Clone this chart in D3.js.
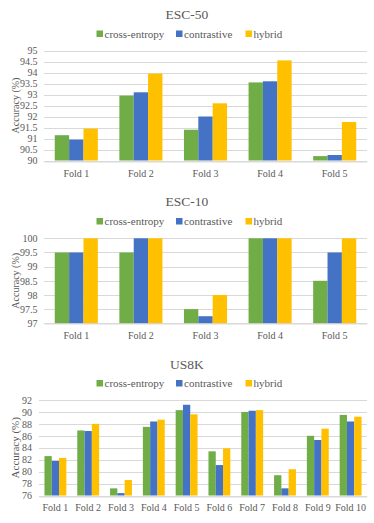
<!DOCTYPE html>
<html><head><meta charset="utf-8">
<script src="https://cdn.jsdelivr.net/npm/d3@7"></script>
<style>html,body{margin:0;padding:0;background:#fff;}svg{display:block;}</style>
</head><body>
<svg id="c" width="374" height="523"></svg>
<script>
const seriesNames = ["cross-entropy", "contrastive", "hybrid"];
const colors = ["#70AD47", "#4472C4", "#FFC000"];

const esc50Folds = ["Fold 1", "Fold 2", "Fold 3", "Fold 4", "Fold 5"];
const esc50CrossEntropy = [91.15, 92.95, 91.4, 93.55, 90.2];
const esc50Contrastive = [90.95, 93.1, 92.0, 93.6, 90.25];
const esc50Hybrid = [91.45, 93.95, 92.6, 94.55, 91.75];
const esc50Ticks = [90, 90.5, 91, 91.5, 92, 92.5, 93, 93.5, 94, 94.5, 95];

const esc10Folds = ["Fold 1", "Fold 2", "Fold 3", "Fold 4", "Fold 5"];
const esc10CrossEntropy = [99.5, 99.5, 97.5, 100, 98.5];
const esc10Contrastive = [99.5, 100, 97.25, 100, 99.5];
const esc10Hybrid = [100, 100, 98, 100, 100];
const esc10Ticks = [97, 97.5, 98, 98.5, 99, 99.5, 100];

const us8kFolds = ["Fold 1", "Fold 2", "Fold 3", "Fold 4", "Fold 5", "Fold 6", "Fold 7", "Fold 8", "Fold 9", "Fold 10"];
const us8kCrossEntropy = [82.6, 86.9, 77.2, 87.5, 90.3, 83.4, 90.0, 79.4, 86.0, 89.5];
const us8kContrastive = [81.8, 86.8, 76.4, 88.4, 91.2, 81.1, 90.2, 77.2, 85.3, 88.4];
const us8kHybrid = [82.3, 88.0, 78.6, 88.7, 89.6, 83.9, 90.3, 80.4, 87.2, 89.2];
const us8kTicks = [76, 78, 80, 82, 84, 86, 88, 90, 92];

const svg = d3.select("#c");
const FONT = "'Liberation Serif','Times New Roman',serif";
const TXT = "#595959";

function panel(cfg) {
  const g = svg.append("g");
  const y = d3.scaleLinear().domain([cfg.ticks[0], cfg.ticks[cfg.ticks.length - 1]]).range([cfg.bottom, cfg.top]);
  const x = d3.scaleBand().domain(cfg.folds).range([cfg.left, cfg.right]).paddingInner(1/3).paddingOuter(1/6);
  const xs = d3.scaleBand().domain(seriesNames).range([0, x.bandwidth()]);

  // title
  g.append("text").attr("x", 187).attr("y", cfg.titleY).attr("text-anchor", "middle")
    .attr("font-family", FONT).attr("font-size", 13.5).attr("fill", TXT).text(cfg.title);

  // legend
  const legX = [96.5, 176, 245.5];
  seriesNames.forEach((s, i) => {
    g.append("rect").attr("x", legX[i]).attr("y", cfg.legendY - 7).attr("width", 6.5).attr("height", 6.5).attr("fill", colors[i]);
    g.append("text").attr("x", legX[i] + 8).attr("y", cfg.legendY).attr("font-family", FONT)
      .attr("font-size", 11).attr("fill", TXT).text(s);
  });

  // gridlines
  g.append("g").selectAll("line").data(cfg.ticks).join("line")
    .attr("x1", cfg.left).attr("x2", cfg.right)
    .attr("y1", d => Math.round(y(d)) + 0.5).attr("y2", d => Math.round(y(d)) + 0.5)
    .attr("stroke", "#D9D9D9").attr("stroke-width", 1);

  // y axis tick labels
  const yAxis = d3.axisLeft(y).tickValues(cfg.ticks).tickSize(0).tickPadding(0).tickFormat(d => String(d));
  const ya = g.append("g").attr("transform", `translate(${cfg.left - cfg.tickGap},0)`).call(yAxis);
  ya.select(".domain").remove();
  ya.selectAll("text").attr("font-family", FONT).attr("font-size", 10).attr("fill", TXT);

  // y axis title
  g.append("text").attr("transform", `translate(${cfg.yTitleX},${(cfg.top + cfg.bottom) / 2}) rotate(-90)`)
    .attr("text-anchor", "middle").attr("dy", "0.35em").attr("font-family", FONT)
    .attr("font-size", cfg.yTitleSize).attr("fill", TXT).text("Accuracy (%)");

  // bars
  const rows = cfg.folds.map((f, i) => ({ fold: f, vals: cfg.series.map(s => s[i]) }));
  const base = cfg.ticks[0];
  g.append("g").selectAll("g").data(rows).join("g")
    .attr("transform", d => `translate(${x(d.fold)},0)`)
    .selectAll("rect").data(d => d.vals.map((v, j) => ({ v, s: seriesNames[j], j }))).join("rect")
    .attr("x", d => xs(d.s)).attr("width", xs.bandwidth())
    .attr("y", d => y(d.v)).attr("height", d => y(base) - y(d.v))
    .attr("fill", d => colors[d.j]);

  // x axis
  const xAxis = d3.axisBottom(x).tickSize(0).tickPadding(0);
  const xa = g.append("g").attr("transform", `translate(0,${Math.round(cfg.bottom) + 0.5})`).call(xAxis);
  xa.select(".domain").attr("stroke", "#D9D9D9");
  xa.selectAll("text").attr("font-family", FONT).attr("font-size", 10).attr("fill", TXT)
    .attr("dy", null).attr("y", cfg.xLabelOffset);
}

panel({ title: "ESC-50", titleY: 18.5, legendY: 37.5, top: 50.5, bottom: 160.5, left: 44, right: 367,
  folds: esc50Folds, series: [esc50CrossEntropy, esc50Contrastive, esc50Hybrid], ticks: esc50Ticks,
  tickGap: 6.5, yTitleX: 15, yTitleSize: 10, xLabelOffset: 15 });

panel({ title: "ESC-10", titleY: 205.5, legendY: 225, top: 238.3, bottom: 323.3, left: 44, right: 367,
  folds: esc10Folds, series: [esc10CrossEntropy, esc10Contrastive, esc10Hybrid], ticks: esc10Ticks,
  tickGap: 6.5, yTitleX: 15, yTitleSize: 10, xLabelOffset: 15 });

panel({ title: "US8K", titleY: 368.5, legendY: 387, top: 400, bottom: 495.5, left: 39, right: 367,
  folds: us8kFolds, series: [us8kCrossEntropy, us8kContrastive, us8kHybrid], ticks: us8kTicks,
  tickGap: 7, yTitleX: 15, yTitleSize: 11, xLabelOffset: 14.5 });
</script>
</body></html>
